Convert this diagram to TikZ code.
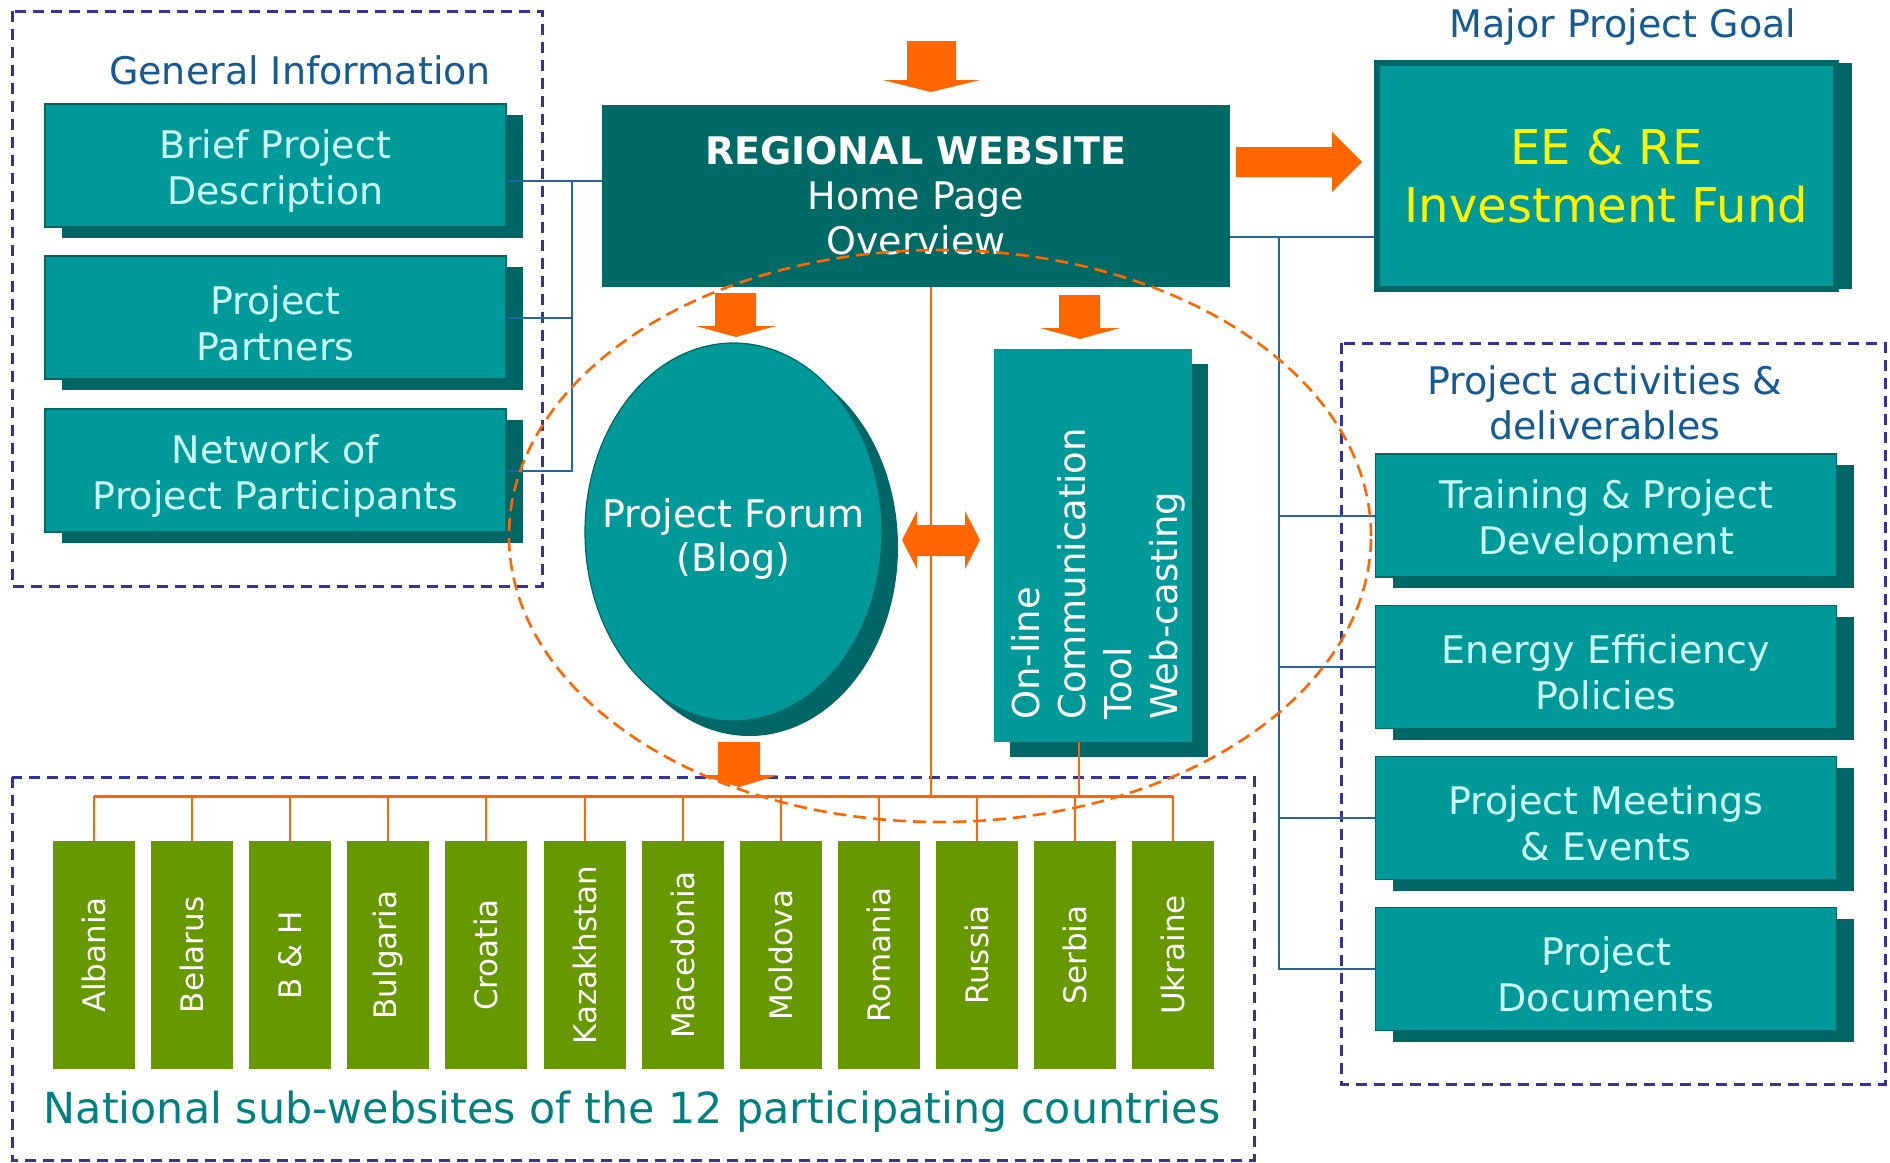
\documentclass[tikz,border=0pt]{standalone}
\usepackage{fontspec}
\setmainfont{DejaVu Sans}
\usepackage{graphicx}
\usetikzlibrary{shapes.geometric,shadows,calc}

\definecolor{tealbox}{HTML}{009999}
\definecolor{tealdark}{HTML}{006666}
\definecolor{websitec}{HTML}{006A66}
\definecolor{boxtext}{HTML}{CCFFFF}
\definecolor{headc}{RGB}{20,90,150}
\definecolor{framec}{HTML}{333399}
\definecolor{linkc}{RGB}{40,100,160}
\definecolor{orangec}{HTML}{FF6600}
\definecolor{countryc}{HTML}{669900}
\definecolor{subc}{HTML}{008080}

\tikzset{
  infobox/.style={fill=tealbox, draw=tealdark, line width=0.6pt, text=boxtext,
    minimum width=230.5pt, minimum height=61.5pt, inner sep=0pt, align=center,
    font=\fontsize{19}{23}\selectfont, text height=43pt,
    general shadow={fill=tealdark, shadow xshift=8.5pt, shadow yshift=-5.5pt}},
  heading/.style={text=headc, font=\fontsize{19}{22.5}\selectfont, inner sep=0pt},
  groupframe/.style={draw=framec, line width=1.5pt, dash pattern=on 5.7pt off 3.3pt},
  bluelink/.style={draw=linkc, line width=1pt},
  orangelink/.style={draw=orangec, line width=1pt},
  blockarrow/.style={fill=orangec},
  country/.style={fill=countryc, text=white, minimum width=41pt, minimum height=114pt,
    inner sep=0pt, font=\fontsize{15.5}{18}\selectfont},
}

\begin{document}
\begin{tikzpicture}[x=0.5pt, y=-0.5pt]
  \useasboundingbox (0,0) rectangle (1890,1162);

  % group frames
  \draw[groupframe] (12,11) rectangle (542,586);
  \draw[groupframe] (1341,343) rectangle (1885,1084);
  \draw[groupframe] (12,777) rectangle (1254,1160);

  % headings
  \node[heading, anchor=base] (geninfo) at (300,84) {General Information};
  \node[heading, anchor=base] (goalhead) at (1623,37) {Major Project Goal};
  \node[heading, align=center] (acthead) at (1605,403) {Project activities \&\\deliverables};

  % general information
  \node[infobox] (brief) at (275.5,165.5) {Brief Project\\Description};
  \node[infobox] (partners) at (275.5,317.5) {Project\\Partners};
  \node[infobox] (network) at (275.5,470.5) {Network of\\Project Participants};

  % activities and deliverables
  \node[infobox] (training) at (1606,515.5) {Training \& Project\\Development};
  \node[infobox] (policies) at (1606,667) {Energy Efficiency\\Policies};
  \node[infobox] (meetings) at (1606,818) {Project Meetings\\\& Events};
  \node[infobox] (documents) at (1606,969) {Project\\Documents};

  % regional website and goal
  \node[fill=websitec, text=white, minimum width=314pt, minimum height=91pt, inner sep=0pt,
    align=center, font=\fontsize{19}{22.5}\selectfont] (website) at (916,196)
    {\textbf{REGIONAL WEBSITE}\\Home Page\\Overview};
  \node[fill=tealbox, draw=tealdark, line width=3pt, minimum width=229.5pt, minimum height=113pt,
    inner sep=0pt, align=center, text=yellow, font=\fontsize{24}{29}\selectfont,
    general shadow={fill=tealdark, shadow xshift=8pt, shadow yshift=0pt}] (fund) at (1606.5,176)
    {EE \& RE\\Investment Fund};

  % forum and on-line tool
  \node[ellipse, fill=tealbox, draw=tealdark, line width=0.6pt, minimum width=148.5pt,
    minimum height=189pt, inner sep=0pt,
    general shadow={fill=tealdark, shadow xshift=8pt, shadow yshift=-7.5pt}] (forum) at (733.5,532) {};
  \node[text=white, align=center, inner sep=0pt, font=\fontsize{19}{22}\selectfont] (forumtxt) at (733.5,539)
    {Project Forum\\(Blog)};
  \node[fill=tealbox, minimum width=99pt, minimum height=196.5pt, inner sep=0pt,
    general shadow={fill=tealdark, shadow xshift=8pt, shadow yshift=-7.5pt}] (online) at (1093,545.5) {};
  \node[anchor=south, inner sep=0pt, text=white, font=\fontsize{18.5}{23}\selectfont] (onlinetxt) at (1099,720)
    {\rotatebox{90}{\begin{tabular}{@{}l@{}}On-line\\Communication\\Tool\\Web-casting\end{tabular}}};

  % national sub-websites
  \foreach \cname [count=\i] in {Albania,Belarus,B \& H,Bulgaria,Croatia,Kazakhstan,Macedonia,Moldova,Romania,Russia,Serbia,Ukraine}
    \node[country] (c\i) at ({94+98.1*(\i-1)},955) {\rotatebox{90}{\cname}};
  \node[anchor=base, text=subc, font=\fontsize{21.4}{25}\selectfont, inner sep=0pt] (subsites) at (632,1123)
    {National sub-websites of the 12 participating countries};

  % blue links
  \coordinate (lj) at (572,181);
  \draw[bluelink] (brief.east |- lj) -- (website.west |- lj);
  \draw[bluelink] (lj) |- (partners.east);
  \draw[bluelink] (lj) |- (network.east);
  \coordinate (rj) at (1279,237);
  \draw[bluelink] (website.east |- rj) -- (fund.west |- rj);
  \foreach \act in {training,policies,meetings,documents}
    \draw[bluelink] (rj) |- (\act.west);

  % block arrows
  \fill[blockarrow] (907,41) -- (956,41) -- (956,80) -- (980,80) -- (931,92) -- (883,80) -- (907,80) -- cycle;
  \fill[blockarrow] (715,293) -- (756,293) -- (756,326) -- (776,326) -- (736,337) -- (696,326) -- (715,326) -- cycle;
  \fill[blockarrow] (1059,295) -- (1100,295) -- (1100,328) -- (1120,328) -- (1080,339) -- (1040,328) -- (1059,328) -- cycle;
  \fill[blockarrow] (718,742) -- (760,742) -- (760,775) -- (779,775) -- (739,787) -- (700,775) -- (718,775) -- cycle;
  \fill[blockarrow] (1236,147) -- (1332,147) -- (1332,132) -- (1362,162) -- (1332,192) -- (1332,177) -- (1236,177) -- cycle;
  \fill[blockarrow] (902,540) -- (917,511) -- (917,525) -- (965,525) -- (965,511) -- (980,540)
    -- (965,569) -- (965,556) -- (917,556) -- (917,569) -- cycle;

  % orange feeds
  \coordinate (bus) at (0,796);
  \draw[orangelink, line width=1.5pt] (c1.north |- bus) -- (c12.north |- bus);
  \foreach \i in {1,...,12}
    \draw[orangelink] (c\i.north) -- (c\i.north |- bus);
  \coordinate (webdrop) at ($(website.south)+(15,0)$);
  \draw[orangelink] (webdrop) -- (webdrop |- bus);
  \coordinate (tooldrop) at ($(online.south)+(-14,0)$);
  \draw[orangelink] (tooldrop) -- (tooldrop |- bus);

  % ring
  \draw[orangec, line width=1.3pt, dash pattern=on 6.5pt off 3.5pt] (940,536) ellipse [x radius=215.5pt, y radius=143pt];
\end{tikzpicture}
\end{document}
